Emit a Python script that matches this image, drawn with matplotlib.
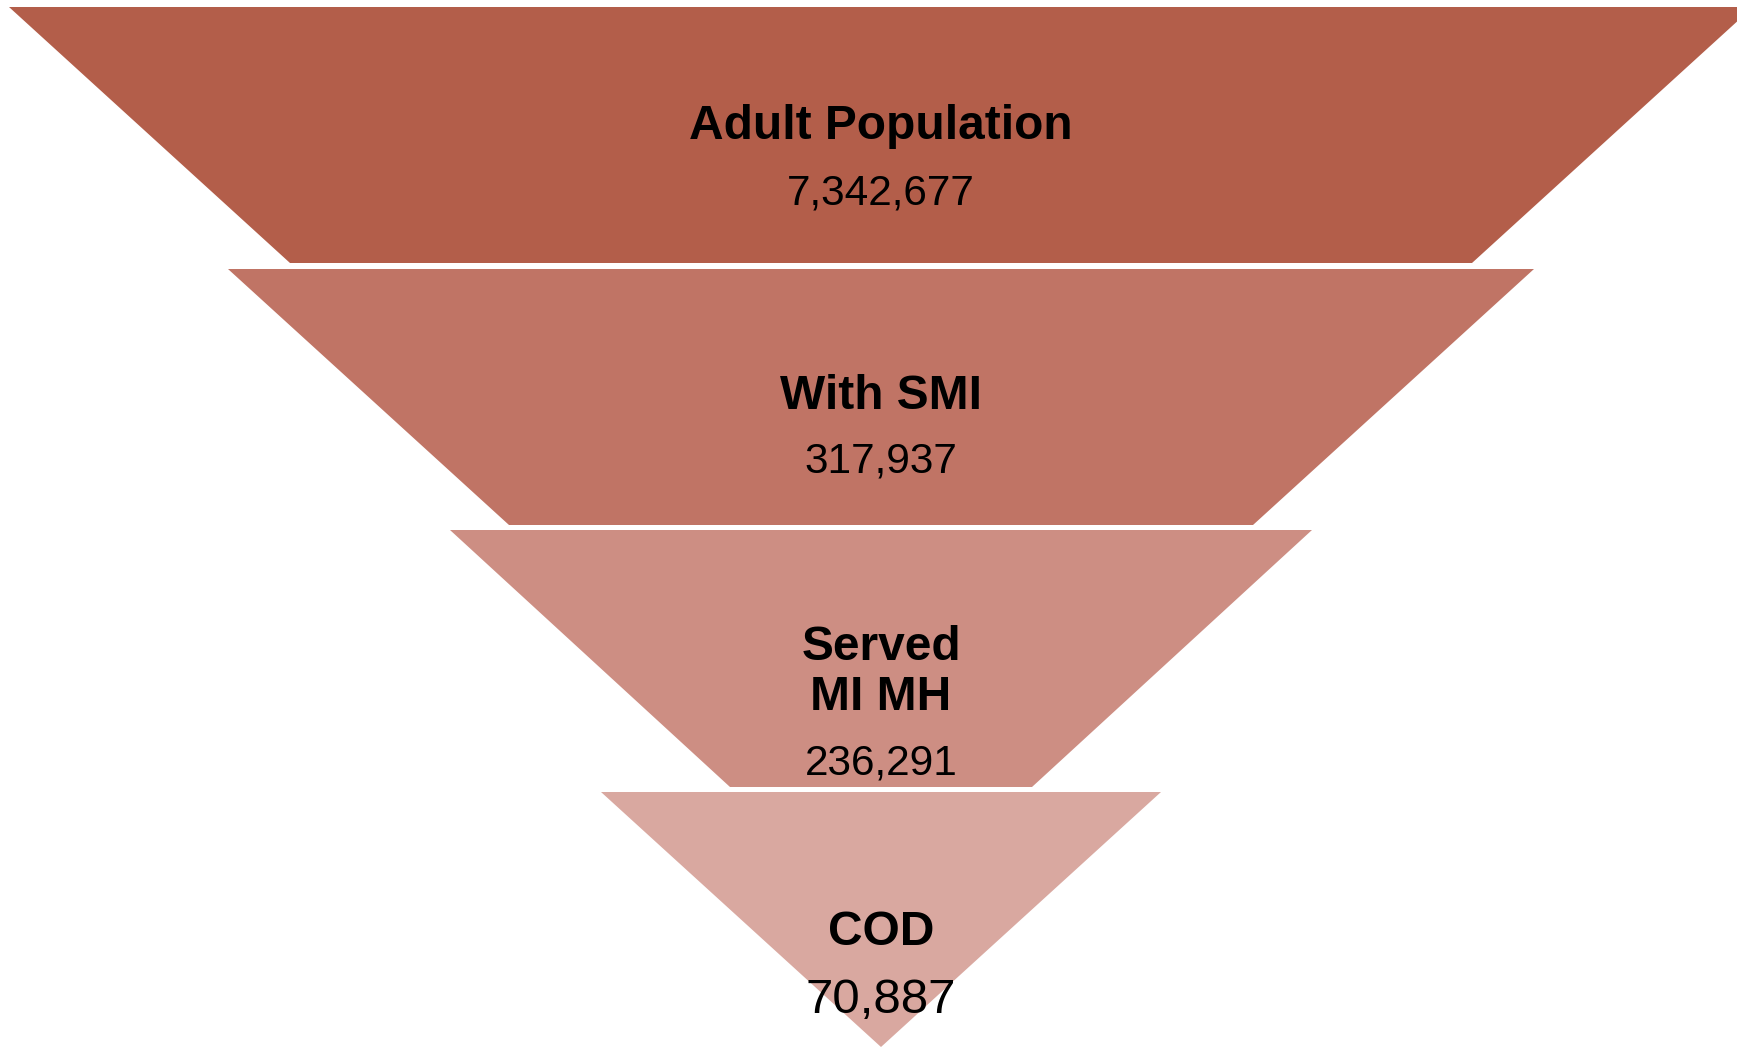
import matplotlib.pyplot as plt
from matplotlib.patches import Polygon

# funnel stages, top to bottom
stages = ["Adult Population", "With SMI", "Served\nMI MH", "COD"]
counts = [7342677, 317937, 236291, 70887]
colors = ["#B35E4A", "#C07465", "#CD8E83", "#D9A8A0"]

# layout of the segments in pixel units (y grows downward)
W, H = 1737, 1047
cx = 881
seg_top = [7, 269, 530, 792]
seg_bot = [263, 525, 787, 1047]
half_top = [872, 653, 431, 280]
half_bot = [591, 372, 151, 0]

# text baselines for the stage name (last line) and the count
name_base = [139, 409, 710, 945]
count_base = [205, 473, 775, 1013]
count_size = [30.5, 30.5, 30.5, 35.5]

plt.rcParams['font.family'] = ['Liberation Sans', 'DejaVu Sans']

fig = plt.figure(figsize=(W / 100, H / 100), dpi=100)
ax = fig.add_axes([0, 0, 1, 1])
ax.set_xlim(0, W)
ax.set_ylim(H, 0)
ax.axis('off')

for i, (name, n) in enumerate(zip(stages, counts)):
    pts = [
        (cx - half_top[i], seg_top[i]),
        (cx + half_top[i], seg_top[i]),
        (cx + half_bot[i], seg_bot[i]),
        (cx - half_bot[i], seg_bot[i]),
    ]
    ax.add_patch(Polygon(pts, closed=True, facecolor=colors[i],
                         edgecolor='none'))

    lines = name.split("\n")
    for j, line in enumerate(reversed(lines)):
        ax.text(cx, name_base[i] - 50 * j, line, ha='center',
                va='baseline', fontsize=34.5, fontweight='bold', color='black')
    ax.text(cx, count_base[i], f"{n:,}", ha='center', va='baseline',
            fontsize=count_size[i], color='black')

fig.savefig("out.png", dpi=100, facecolor='white')
